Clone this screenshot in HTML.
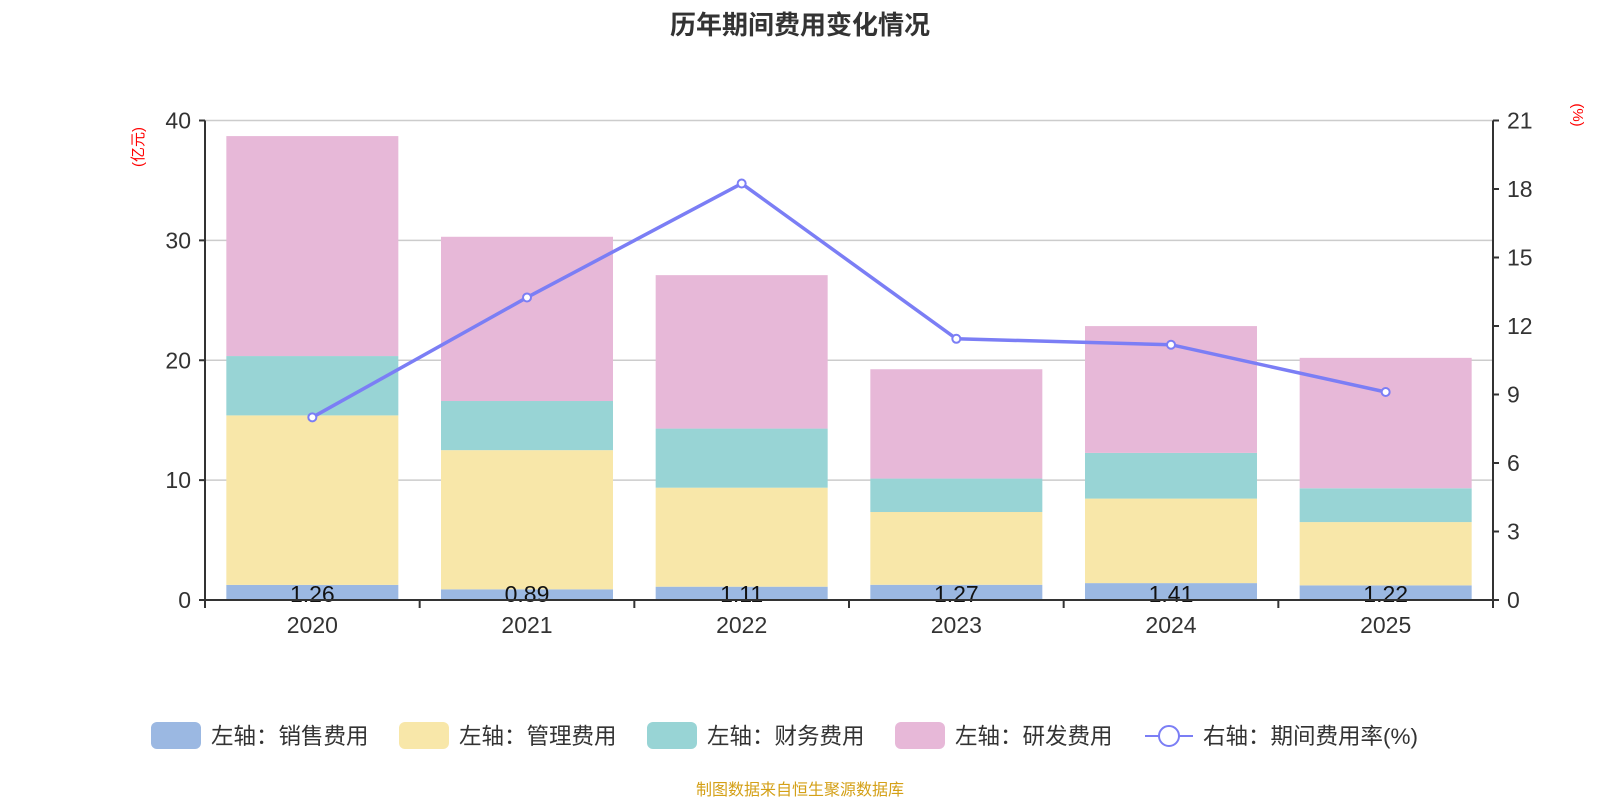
<!DOCTYPE html>
<html><head><meta charset="utf-8"><style>
body{margin:0;background:#fff;}
svg{display:block;font-family:"Liberation Sans","Noto Sans CJK SC",sans-serif;}
</style></head><body>
<svg id="chart" width="1600" height="800" viewBox="0 0 1600 800">
<text x="800" y="34" text-anchor="middle" font-size="26" font-weight="bold" fill="#333">历年期间费用变化情况</text>
<text transform="translate(143,147) rotate(-90)" text-anchor="middle" font-size="15" fill="#ff0000">(亿元)</text>
<text transform="translate(1573,115) rotate(90)" text-anchor="middle" font-size="15" fill="#ff0000">(%)</text>
<g id="grid"></g><g id="bars"></g><g id="axes"></g><g id="line"></g>
<g id="legend"></g>
<text x="800" y="795" text-anchor="middle" font-size="16" fill="#d4a017">制图数据来自恒生聚源数据库</text>
</svg>
<script>
const categories=["2020","2021","2022","2023","2024","2025"];
const sales=[1.26,0.89,1.11,1.27,1.41,1.22];
const admin=[14.14,11.61,8.26,6.07,7.05,5.28];
const finance=[4.95,4.1,4.93,2.79,3.81,2.82];
const rnd=[18.35,13.7,12.8,9.12,10.58,10.88];
const rate=[8.0,13.25,18.24,11.44,11.18,9.11];
const leftTicks=[0,10,20,30,40];
const rightTicks=[0,3,6,9,12,15,18,21];
const L=205,R=1493,T=120.5,B=600;
const NS="http://www.w3.org/2000/svg";
const cw=(R-L)/categories.length;
const yL=v=>B-(v/40)*(B-T);
const yR=v=>B-(v/21)*(B-T);
const xC=i=>L+cw*(i+0.5);
function mk(tag,attrs,parent,txt){const e=document.createElementNS(NS,tag);for(const k in attrs)e.setAttribute(k,attrs[k]);if(txt!==undefined)e.textContent=txt;parent.appendChild(e);return e;}
const grid=document.getElementById('grid'),bars=document.getElementById('bars'),axes=document.getElementById('axes'),line=document.getElementById('line'),legend=document.getElementById('legend');
leftTicks.forEach(t=>{if(t>0){const g=mk('line',{x1:L,x2:R,y1:yL(t),y2:yL(t),stroke:'#ccc','stroke-width':1.5},grid);

}
const tx=mk('text',{x:L-14,y:yL(t)+8,'text-anchor':'end','font-size':23,fill:'#333'},axes,t);


mk('line',{x1:L-6,x2:L,y1:yL(t),y2:yL(t),stroke:'#333','stroke-width':2},axes);});
rightTicks.forEach(t=>{const tx=mk('text',{x:R+14,y:yR(t)+8,'font-size':23,fill:'#333'},axes,t);


mk('line',{x1:R,x2:R+6,y1:yR(t),y2:yR(t),stroke:'#333','stroke-width':2},axes);});
mk('line',{x1:L,x2:L,y1:T,y2:B+6,stroke:'#333','stroke-width':2},axes);
mk('line',{x1:R,x2:R,y1:T,y2:B+6,stroke:'#333','stroke-width':2},axes);
const series=[[sales,'#9bb8e2','sales'],[admin,'#f8e7a9','admin'],[finance,'#98d4d5','finance'],[rnd,'#e7b8d8','rnd']];
const bw=172;
categories.forEach((c,i)=>{let base=0;series.forEach(([arr,col,nm])=>{const v=arr[i];const r=mk('rect',{x:xC(i)-bw/2,y:yL(base+v),width:bw,height:yL(base)-yL(base+v),fill:col},bars);


base+=v;});
const lb=mk('text',{x:xC(i),y:B+2,'text-anchor':'middle','font-size':23,fill:'#111'},bars,sales[i].toFixed(2));


const xl=mk('text',{x:xC(i),y:633,'text-anchor':'middle','font-size':23,fill:'#333'},axes,c);

});
mk('line',{x1:L,x2:R,y1:B,y2:B,stroke:'#333','stroke-width':2},axes);
for(let i=0;i<=categories.length;i++)mk('line',{x1:L+cw*i,x2:L+cw*i,y1:B,y2:B+8,stroke:'#333','stroke-width':2},axes);
const pl=mk('polyline',{points:rate.map((v,i)=>xC(i)+','+yR(v)).join(' '),fill:'none',stroke:'#7b7ef5','stroke-width':3.5},line);


rate.forEach((v,i)=>{const p=mk('circle',{cx:xC(i),cy:yR(v),r:4,fill:'#fff',stroke:'#7b7ef5','stroke-width':2},line);

});
const items=[['左轴：销售费用','#9bb8e2',151],['左轴：管理费用','#f8e7a9',399],['左轴：财务费用','#98d4d5',647],['左轴：研发费用','#e7b8d8',895]];
items.forEach(([t,col,x])=>{const g=mk('g',{},legend);


mk('rect',{x:x,y:722,width:50,height:27,rx:6,fill:col},g);
mk('text',{x:x+60,y:744,'font-size':22.5,fill:'#333'},g,t);});
const g5=mk('g',{},legend);


mk('line',{x1:1145,x2:1193,y1:736,y2:736,stroke:'#7b7ef5','stroke-width':2},g5);
mk('circle',{cx:1169,cy:736,r:10,fill:'#fff',stroke:'#7b7ef5','stroke-width':2},g5);
mk('text',{x:1203,y:744,'font-size':22.5,fill:'#333'},g5,'右轴：期间费用率(%)');
</script>
</body></html>
